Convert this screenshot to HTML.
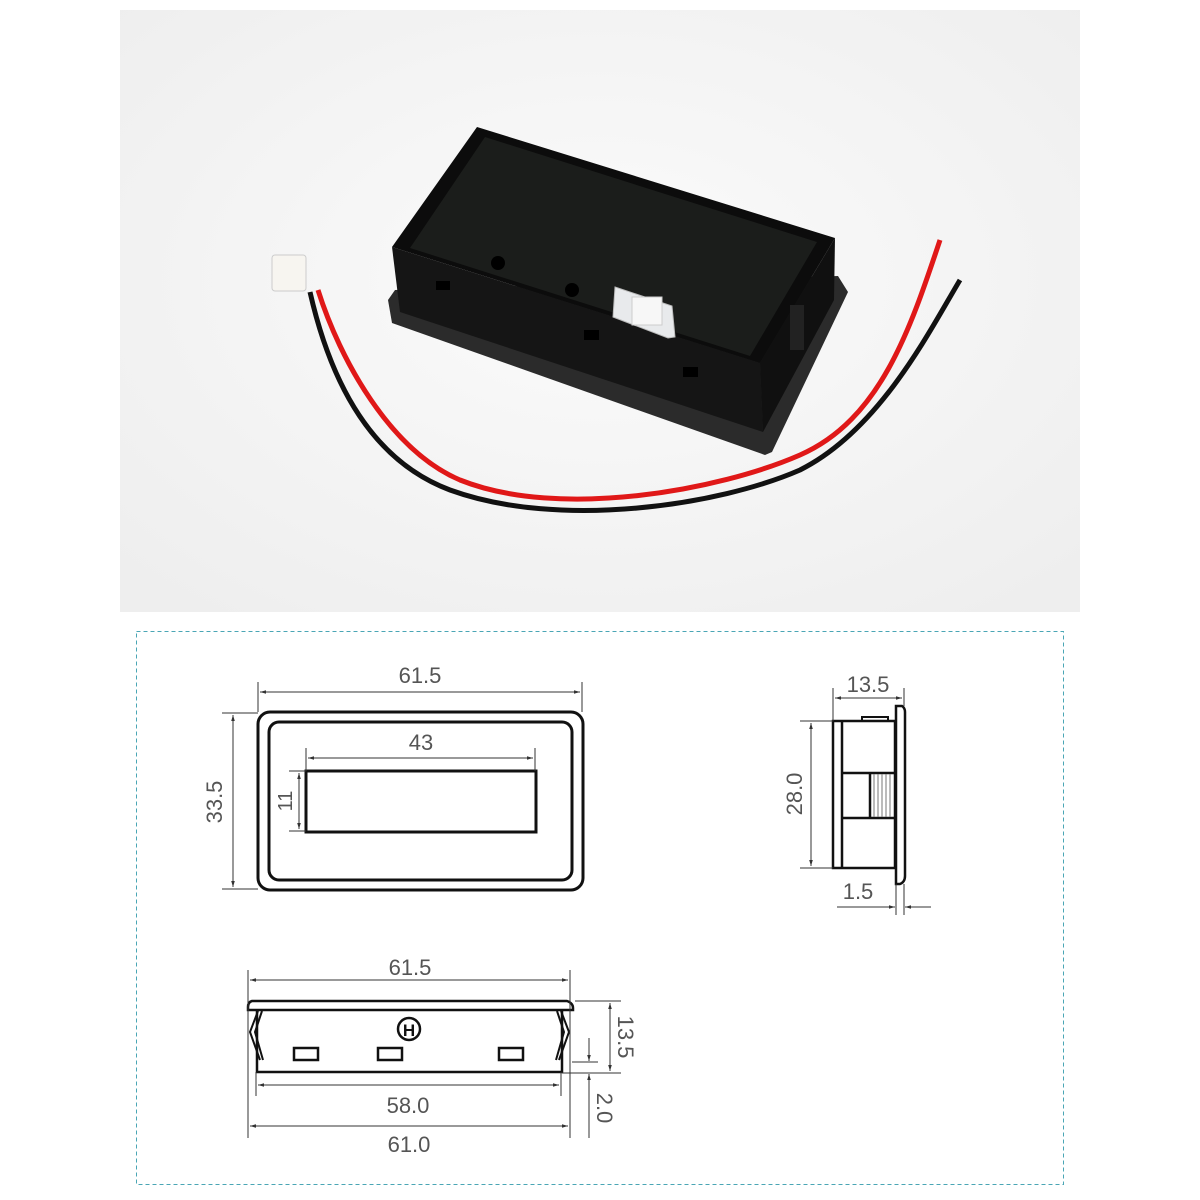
<!DOCTYPE html>
<html><head><meta charset="utf-8"><style>
html,body{margin:0;padding:0;background:#fff;width:1200px;height:1200px;overflow:hidden}
svg{display:block}
text{font-family:"Liberation Sans",sans-serif;fill:#555}
</style></head><body>
<svg width="1200" height="1200" viewBox="0 0 1200 1200" xmlns="http://www.w3.org/2000/svg">
<defs>
<marker id="a" viewBox="0 0 10 10" refX="10" refY="5" markerWidth="9" markerHeight="6" orient="auto-start-reverse"><path d="M0,2 L10,5 L0,8 z" fill="#333"/></marker>
<radialGradient id="bg" cx="0.5" cy="0.45" r="0.7"><stop offset="0" stop-color="#fbfbfb"/><stop offset="1" stop-color="#eeeeee"/></radialGradient>
</defs>
<!-- photo -->
<rect x="120" y="10" width="960" height="602" fill="url(#bg)"/>
<!-- wires -->
<path d="M318,290 C340,360 390,450 460,480 C560,520 720,490 800,455 C880,420 910,330 940,240" fill="none" stroke="#e01818" stroke-width="5"/>
<path d="M310,292 C330,380 370,460 450,490 C560,530 720,505 800,470 C880,430 930,330 960,280" fill="none" stroke="#111" stroke-width="5"/>
<rect x="272" y="255" width="34" height="36" rx="3" fill="#f7f5f0" stroke="#ccc"/>
<!-- flange -->
<polygon points="388,300 395,290 838,276 848,292 772,452 765,455 392,323" fill="#2b2b2b"/>
<!-- front face -->
<polygon points="392,247 760,363 763,432 400,312" fill="#151515"/>
<!-- right face -->
<polygon points="760,363 835,238 834,300 763,432" fill="#101010"/>
<!-- lid -->
<polygon points="477,127 835,238 760,363 392,247" fill="#0c0c0c"/>
<polygon points="485,137 817,242 750,356 410,248" fill="#1b1d1b"/>
<circle cx="498" cy="263" r="7" fill="#000"/>
<circle cx="572" cy="290" r="7" fill="#000"/>
<rect x="436" y="281" width="14" height="9" fill="#000"/>
<rect x="584" y="330" width="15" height="10" fill="#000"/>
<rect x="683" y="367" width="15" height="10" fill="#000"/>
<polygon points="615,287 672,306 675,337 668,338 613,317" fill="#e8eaec" stroke="#bbb"/>
<rect x="632" y="297" width="30" height="28" fill="#f7f7f7" stroke="#ccc"/>
<rect x="790" y="305" width="14" height="45" fill="#222"/>

<!-- drawing border -->
<rect x="136.5" y="631.5" width="927" height="553" fill="#fff" stroke="#4aa6b5" stroke-width="1" stroke-dasharray="4,3"/>

<g stroke="#111" fill="none">
<rect x="258" y="712" width="325" height="178" rx="12" stroke-width="3"/>
<rect x="269" y="722" width="303" height="158" rx="10" stroke-width="3"/>
<rect x="306" y="771" width="230" height="61" stroke-width="3"/>
</g>
<g stroke="#333" stroke-width="1" fill="none">
<line x1="258" y1="682" x2="258" y2="712"/><line x1="582" y1="682" x2="582" y2="712"/>
<line x1="260" y1="692" x2="580" y2="692" marker-start="url(#a)" marker-end="url(#a)"/>
<line x1="306" y1="748" x2="306" y2="771"/><line x1="535" y1="748" x2="535" y2="771"/>
<line x1="308" y1="758" x2="533" y2="758" marker-start="url(#a)" marker-end="url(#a)"/>
<line x1="222" y1="713" x2="258" y2="713"/><line x1="222" y1="889" x2="258" y2="889"/>
<line x1="233" y1="715" x2="233" y2="887" marker-start="url(#a)" marker-end="url(#a)"/>
<line x1="289" y1="771" x2="306" y2="771"/><line x1="289" y1="831" x2="306" y2="831"/>
<line x1="299" y1="773" x2="299" y2="829" marker-start="url(#a)" marker-end="url(#a)"/>
</g>
<text x="420" y="683" font-size="22" text-anchor="middle">61.5</text>
<text x="421" y="750" font-size="22" text-anchor="middle">43</text>
<text transform="translate(222,802) rotate(-90)" font-size="22" text-anchor="middle">33.5</text>
<text transform="translate(292,801) rotate(-90)" font-size="20" text-anchor="middle">11</text>

<g stroke="#111" fill="none" stroke-width="2.5">
<rect x="833" y="721" width="62" height="147"/>
<line x1="842" y1="721" x2="842" y2="868"/>
<line x1="842" y1="773" x2="895" y2="773"/>
<line x1="842" y1="818" x2="895" y2="818"/>
<line x1="870" y1="773" x2="870" y2="818"/>
<path d="M896,706 L902,706 Q905,708 905,712 L905,876 Q905,882 900,884 L896,884 Z"/>
<path d="M862,721 L862,717 L888,717 L888,721" stroke-width="2"/>
</g>
<g stroke="#777" stroke-width="1">
<line x1="874" y1="774" x2="874" y2="817"/><line x1="878" y1="774" x2="878" y2="817"/><line x1="882" y1="774" x2="882" y2="817"/><line x1="886" y1="774" x2="886" y2="817"/><line x1="890" y1="774" x2="890" y2="817"/>
</g>
<g stroke="#333" stroke-width="1" fill="none">
<line x1="833" y1="688" x2="833" y2="721"/><line x1="904" y1="688" x2="904" y2="706"/>
<line x1="835" y1="698" x2="902" y2="698" marker-start="url(#a)" marker-end="url(#a)"/>
<line x1="800" y1="721" x2="833" y2="721"/><line x1="800" y1="868" x2="833" y2="868"/>
<line x1="811" y1="723" x2="811" y2="866" marker-start="url(#a)" marker-end="url(#a)"/>
<line x1="896" y1="884" x2="896" y2="915"/><line x1="904" y1="884" x2="904" y2="915"/>
<line x1="837" y1="907" x2="895" y2="907" marker-end="url(#a)"/>
<line x1="931" y1="907" x2="905" y2="907" marker-end="url(#a)"/>
</g>
<text x="868" y="692" font-size="22" text-anchor="middle">13.5</text>
<text transform="translate(802,794) rotate(-90)" font-size="22" text-anchor="middle">28.0</text>
<text x="858" y="899" font-size="22" text-anchor="middle">1.5</text>

<g stroke="#111" fill="none" stroke-width="2.5">
<path d="M252,1001 L567,1001 Q573,1003 573,1008 L573,1010 L248,1010 L248,1007 Q248,1002 252,1001 Z"/>
<path d="M257,1010 L257,1072 L562,1072 L562,1010"/>
<path d="M258,1011 L250,1032 L260,1060" stroke-width="2"/>
<path d="M262,1011 L255,1032 L263,1060" stroke-width="2"/>
<path d="M561,1011 L569,1032 L559,1060" stroke-width="2"/>
<path d="M557,1011 L564,1032 L556,1060" stroke-width="2"/>
<rect x="294" y="1048" width="24" height="12"/>
<rect x="378" y="1048" width="24" height="12"/>
<rect x="499" y="1048" width="24" height="12"/>
<circle cx="409" cy="1029" r="11"/>
</g>
<text x="409" y="1036" font-size="17" text-anchor="middle" style="fill:#111;font-weight:bold">H</text>
<g stroke="#333" stroke-width="1" fill="none">
<line x1="248" y1="970" x2="248" y2="1138"/><line x1="570" y1="970" x2="570" y2="1138"/>
<line x1="250" y1="980" x2="568" y2="980" marker-start="url(#a)" marker-end="url(#a)"/>
<line x1="256" y1="1072" x2="256" y2="1096"/><line x1="561" y1="1072" x2="561" y2="1096"/>
<line x1="258" y1="1085" x2="559" y2="1085" marker-start="url(#a)" marker-end="url(#a)"/>
<line x1="250" y1="1126" x2="568" y2="1126" marker-start="url(#a)" marker-end="url(#a)"/>
<line x1="575" y1="1001" x2="621" y2="1001"/><line x1="562" y1="1073" x2="621" y2="1073"/>
<line x1="610" y1="1003" x2="610" y2="1071" marker-start="url(#a)" marker-end="url(#a)"/>
<line x1="572" y1="1062" x2="598" y2="1062"/>
<line x1="589" y1="1038" x2="589" y2="1061" marker-end="url(#a)"/>
<line x1="589" y1="1138" x2="589" y2="1074" marker-end="url(#a)"/>
</g>
<text x="410" y="975" font-size="22" text-anchor="middle">61.5</text>
<text x="408" y="1113" font-size="22" text-anchor="middle">58.0</text>
<text x="409" y="1152" font-size="22" text-anchor="middle">61.0</text>
<text transform="translate(618,1037) rotate(90)" font-size="22" text-anchor="middle">13.5</text>
<text transform="translate(597,1108) rotate(90)" font-size="22" text-anchor="middle">2.0</text>
</svg>
</body></html>
